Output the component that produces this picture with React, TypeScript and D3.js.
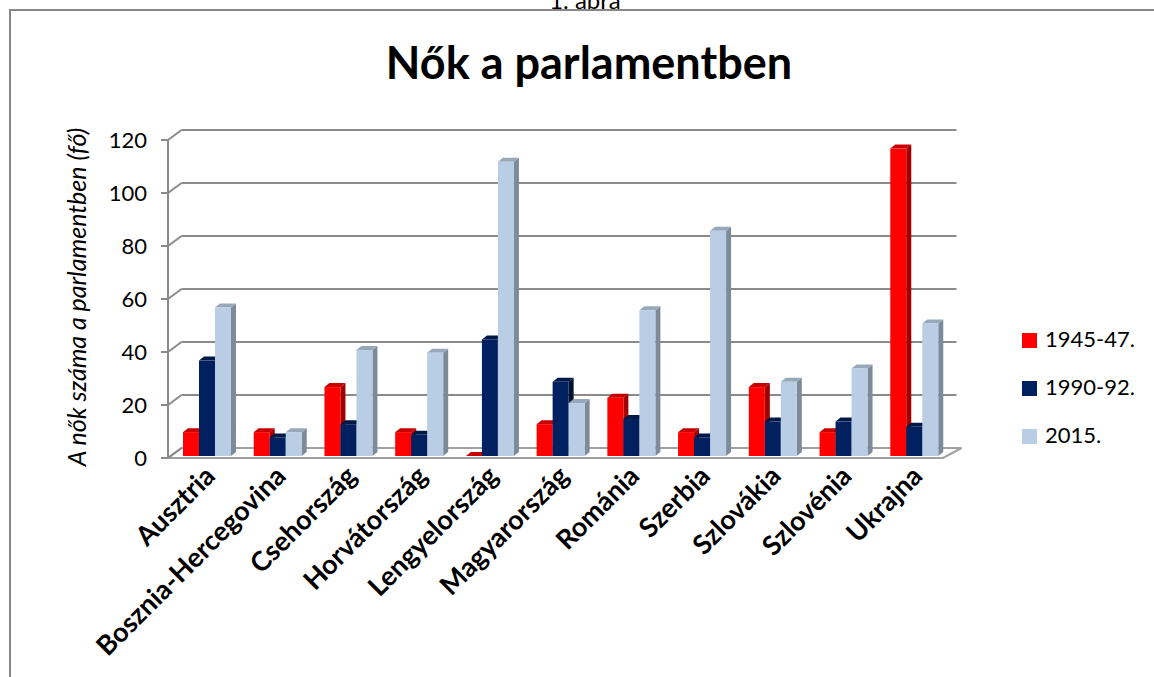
import React from 'react';
import * as d3 from 'd3';

// chart data
const categories = ['Ausztria', 'Bosznia-Hercegovina', 'Csehország', 'Horvátország', 'Lengyelország', 'Magyarország', 'Románia', 'Szerbia', 'Szlovákia', 'Szlovénia', 'Ukrajna'];
const seriesNames = ['1945-47.', '1990-92.', '2015.'];
const values1945 = [9, 9, 26, 9, 0, 12, 22, 9, 26, 9, 116];
const values1990 = [36, 7, 12, 8, 44, 28, 14, 7, 13, 13, 11];
const values2015 = [56, 9, 40, 39, 111, 20, 55, 85, 28, 33, 50];
const yTicks = [0, 20, 40, 60, 80, 100, 120];

const seriesValues = [values1945, values1990, values2015];
const colors = [
  { front: '#FF0000', side: '#A00000', top: '#C80000' },
  { front: '#002060', side: '#00112F', top: '#001848' },
  { front: '#B9CDE5', side: '#7D8A99', top: '#98A8BB' },
];

const FONT = 'Lato, "Open Sans", "Liberation Sans", sans-serif';
const GRID = '#8A8A8A';

// pseudo 3d depth of the wall / bars
const DX = 13.5;
const DY = -10;
const BDX = 5;
const BDY = -4;

export default function App() {
  const W = 1154;
  const H = 677;

  const x = d3.scaleBand<string>().domain(categories).range([168, 946]);
  const inner = d3.scaleBand<string>().domain(seriesNames).range([15, 63]);
  const yAxis = d3.scaleLinear().domain([0, 120]).range([458, 140]);
  const yBar = d3.scaleLinear().domain([0, 120]).range([456, 138]);

  const left = 168;
  const right = 943;
  const floorY = yAxis(0);

  const bars: JSX.Element[] = [];
  categories.forEach((c, i) => {
    seriesNames.forEach((s, k) => {
      const v = seriesValues[k][i];
      const x0 = (x(c) as number) + (inner(s) as number);
      const w = inner.bandwidth();
      const yt = yBar(v);
      const yb = yBar(0);
      const col = colors[k];
      bars.push(
        <g key={c + s}>
          <polygon
            points={`${x0 + w},${yt} ${x0 + w + BDX},${yt + BDY} ${x0 + w + BDX},${yb + BDY} ${x0 + w},${yb}`}
            fill={col.side}
          />
          <polygon
            points={`${x0},${yt} ${x0 + BDX},${yt + BDY} ${x0 + w + BDX},${yt + BDY} ${x0 + w},${yt}`}
            fill={col.top}
          />
          <rect x={x0} y={yt} width={w} height={yb - yt} fill={col.front} />
        </g>
      );
    });
  });

  return (
    <div style={{ position: 'absolute', left: 0, top: 0, width: W, height: H, background: '#fff' }}>
      <svg width={W} height={H} style={{ display: 'block' }}>
        <text x={585} y={9} textAnchor="middle" fontFamily={FONT} fontSize={24} fill="#000">1. ábra</text>
        <rect x={10} y={10} width={W + 20} height={H + 20} fill="#fff" stroke="#888" strokeWidth={2} />

        <text x={589} y={79} textAnchor="middle" fontFamily={FONT} fontWeight="bold" fontSize={45} fill="#000">
          Nők a parlamentben
        </text>

        {/* back wall gridlines */}
        {yTicks.filter(t => t > 0).map(t => (
          <line key={'g' + t} x1={left + DX} x2={right + DX} y1={yAxis(t) + DY} y2={yAxis(t) + DY} stroke={GRID} strokeWidth={2} />
        ))}

        {/* floor */}
        <polygon
          points={`${left},${floorY} ${right},${floorY} ${right + DX + 5},${floorY + DY} ${left + DX},${floorY + DY}`}
          fill="#fff"
          stroke="#A0A0A0"
          strokeWidth={2}
        />

        {/* side wall */}
        <line x1={left} x2={left} y1={yAxis(120)} y2={yAxis(0)} stroke={GRID} strokeWidth={2} />
        {yTicks.map(t => (
          <g key={'t' + t}>
            <line x1={left} x2={left + DX} y1={yAxis(t)} y2={yAxis(t) + DY} stroke={GRID} strokeWidth={2} />
            <line x1={left - 7} x2={left} y1={yAxis(t)} y2={yAxis(t)} stroke={GRID} strokeWidth={2} />
            <text x={147} y={yAxis(t)} dy="0.35em" textAnchor="end" fontFamily={FONT} fontSize={22} fill="#000">{t}</text>
          </g>
        ))}

        {bars}

        {/* category labels */}
        {categories.map(c => {
          const cx = (x(c) as number) + 42;
          return (
            <text
              key={'c' + c}
              transform={`translate(${cx},${471}) rotate(-45)`}
              textAnchor="end"
              dy="0.35em"
              fontFamily={FONT}
              fontWeight="bold"
              fontSize={27}
              fill="#000"
            >
              {c}
            </text>
          );
        })}

        <text
          transform="translate(86,297) rotate(-90)"
          textAnchor="middle"
          fontFamily={FONT}
          fontStyle="italic"
          fontSize={25}
          fill="#000"
        >
          A nők száma a parlamentben (fő)
        </text>

        {/* legend */}
        {seriesNames.map((s, k) => (
          <g key={'l' + s} transform={`translate(1022,${333 + k * 48})`}>
            <rect width={15} height={15} fill={colors[k].front} />
            <text x={23} y={14} fontFamily={FONT} fontSize={22} fill="#000">{s}</text>
          </g>
        ))}
      </svg>
    </div>
  );
}
